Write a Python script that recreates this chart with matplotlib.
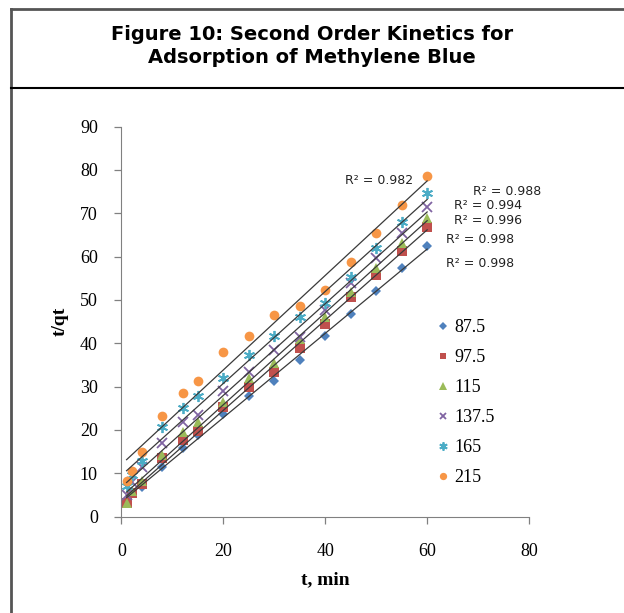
import numpy as np
import matplotlib
matplotlib.use("Agg")
import matplotlib.pyplot as plt
from matplotlib.lines import Line2D

# temps (min)
t = [1, 2, 4, 8, 12, 15, 20, 25, 30, 35, 40, 45, 50, 55, 60]

# t/qt pour chaque concentration
s_87 = [3.5, 5.5, 6.9, 11.5, 15.9, 18.9, 23.7, 27.9, 31.3, 36.2, 41.6, 46.8, 52.1, 57.4, 62.4]
s_97 = [3.2, 5.5, 7.6, 13.4, 17.7, 19.8, 25.3, 30.0, 33.4, 39.0, 44.5, 50.7, 55.8, 61.3, 66.7]
s_115 = [3.2, 6.0, 8.3, 14.3, 19.6, 21.7, 26.5, 32.0, 35.5, 41.0, 46.0, 51.8, 57.4, 63.1, 68.9]
s_137 = [5.0, 8.0, 11.5, 17.0, 21.9, 23.5, 29.0, 33.4, 38.5, 41.5, 47.6, 53.9, 59.7, 65.4, 71.4]
s_165 = [7.0, 9.5, 12.7, 20.7, 25.1, 27.9, 32.0, 37.3, 41.7, 46.0, 49.3, 55.3, 62.0, 68.0, 74.6]
s_215 = [8.3, 10.4, 15.0, 23.3, 28.6, 31.3, 38.0, 41.7, 46.5, 48.6, 52.3, 58.8, 65.4, 71.9, 78.6]

noms = ["87.5", "97.5", "115", "137.5", "165", "215"]
r2 = ["R\u00b2 = 0.998", "R\u00b2 = 0.998", "R\u00b2 = 0.996",
      "R\u00b2 = 0.994", "R\u00b2 = 0.988", "R\u00b2 = 0.982"]

series = [s_87, s_97, s_115, s_137, s_165, s_215]
couleurs = ["#4F81BD", "#C0504D", "#9BBB59", "#8064A2", "#4BACC6", "#F79646"]
marqueurs = [("D", 5), ("s", 6.5), ("^", 7.5), ("x", 6.5), ((6, 2, 0), 8), ("o", 7)]
# position des etiquettes R2 (coord. données)
pos_r2 = [(63.7, 58.4, "left"), (63.7, 63.9, "left"), (65.3, 68.3, "left"),
          (65.3, 71.8, "left"), (69.0, 75.0, "left"), (57.3, 77.6, "right")]

serif = ["Liberation Serif", "DejaVu Serif"]

fig = plt.figure(figsize=(6.24, 6.13), dpi=100)
ax = fig.add_axes([0.1947, 0.1574, 0.8478 - 0.1947, 0.7936 - 0.1574])

x = np.array(t, dtype=float)
handles = []
for y, c, (m, ms), (px, py, ha), lab in zip(series, couleurs, marqueurs, pos_r2, r2):
    y = np.array(y)
    a, b = np.polyfit(x, y, 1)
    xx = np.array([x.min(), x.max()])
    ax.plot(xx, a * xx + b, color="#3a3a3a", lw=0.9, zorder=3)
    mew = 1.3 if m in ("x",) or isinstance(m, tuple) else 0
    ax.plot(x, y, ls="none", marker=m, ms=ms, color=c, mec=c, mew=mew, zorder=2)
    handles.append(Line2D([], [], ls="none", marker=m, ms=ms * 0.75, color=c, mec=c, mew=mew))
    ax.text(px, py, lab, ha=ha, va="center", fontsize=9, family="DejaVu Sans", color="#222222")

ax.set_xlim(0, 80)
ax.set_ylim(0, 90)
ax.set_xticks(range(0, 81, 20))
ax.set_yticks(range(0, 91, 10))
for sp in ["top", "right"]:
    ax.spines[sp].set_visible(False)
for sp in ["left", "bottom"]:
    ax.spines[sp].set_color("#808080")
ax.tick_params(colors="#808080", length=5, width=0.9, labelcolor="black", labelsize=13)
ax.tick_params(axis="y", pad=12)
ax.tick_params(axis="x", pad=14)
for lbl in ax.get_xticklabels() + ax.get_yticklabels():
    lbl.set_family(serif)

ax.set_xlabel("t, min", family=serif, fontweight="bold", fontsize=14, labelpad=8)
ax.set_ylabel("t/qt", family=serif, fontweight="bold", fontsize=14, labelpad=8)

leg = ax.legend(handles, noms, loc="upper left", bbox_to_anchor=(0.735, 0.548),
                frameon=False, prop={"family": serif, "size": 13},
                handlelength=0.6, handletextpad=0.35, labelspacing=0.72)

# cadre du titre
fig.add_artist(Line2D([11 / 624, 11 / 624], [0, 1 - 9 / 613], color="#555555", lw=2))
fig.add_artist(Line2D([11 / 624, 1], [1 - 9 / 613, 1 - 9 / 613], color="#555555", lw=2))
fig.add_artist(Line2D([11 / 624, 1], [1 - 88 / 613, 1 - 88 / 613], color="black", lw=1.5))
fig.text(312 / 624, 1 - 46 / 613, "Figure 10: Second Order Kinetics for\nAdsorption of Methylene Blue",
         ha="center", va="center", fontsize=14, fontweight="bold", family="DejaVu Sans",
         linespacing=1.25)

fig.savefig("out.png", dpi=100)
